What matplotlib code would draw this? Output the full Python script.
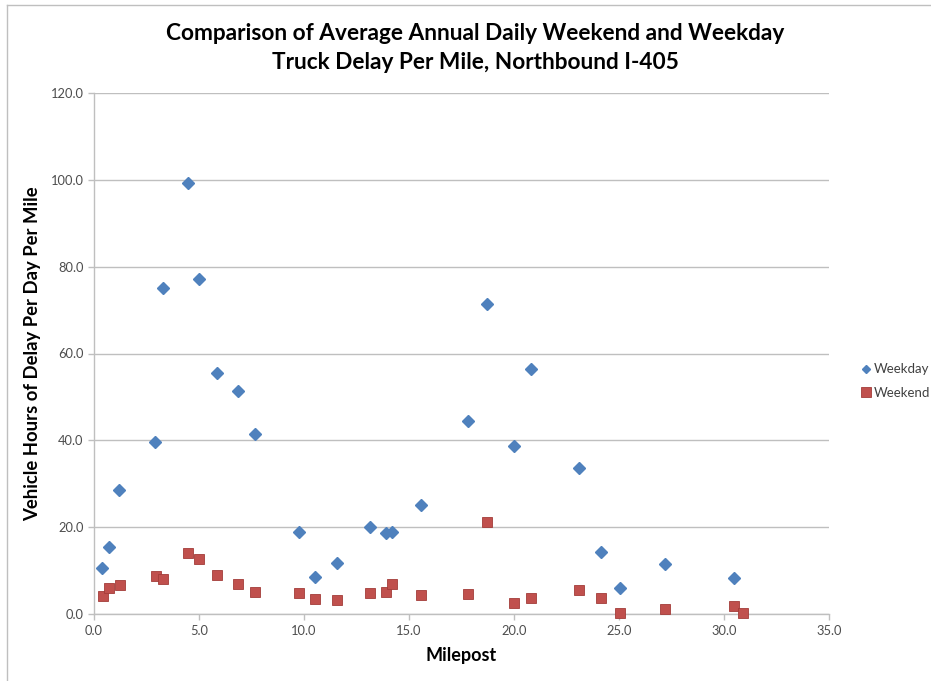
import matplotlib
matplotlib.use("Agg")
import matplotlib.pyplot as plt
from matplotlib.lines import Line2D

plt.rcParams['font.family'] = ['Lato', 'DejaVu Sans']

# weekday series (milepost, hours of delay per day per mile)
weekday_mp = [0.40, 0.71, 1.21, 2.90, 3.30, 4.46, 5.00, 5.84, 6.87, 7.67,
              9.76, 10.52, 11.56, 13.14, 13.90, 14.19, 15.56, 17.79, 18.70,
              20.01, 20.79, 23.11, 24.16, 25.03, 27.19, 30.48]
weekday_delay = [10.6, 15.4, 28.5, 39.7, 75.0, 99.2, 77.2, 55.5, 51.3, 41.4,
                 19.0, 8.5, 11.8, 20.1, 18.7, 18.8, 25.1, 44.5, 71.5,
                 38.8, 56.4, 33.7, 14.3, 5.9, 11.5, 8.4]

# weekend series
weekend_mp = [0.41, 0.73, 1.24, 2.94, 3.30, 4.49, 5.00, 5.84, 6.87, 7.67,
              9.76, 10.52, 11.56, 13.14, 13.90, 14.19, 15.56, 17.79, 18.70,
              20.01, 20.79, 23.11, 24.16, 25.03, 27.19, 30.48, 30.89]
weekend_delay = [4.2, 5.9, 6.7, 8.8, 8.1, 14.1, 12.6, 9.0, 6.9, 5.1,
                 4.8, 3.4, 3.2, 4.8, 5.1, 6.9, 4.4, 4.5, 21.3,
                 2.5, 3.6, 5.5, 3.8, 0.3, 1.1, 1.8, 0.2]

xticks = [0, 5, 10, 15, 20, 25, 30, 35]
yticks = [0, 20, 40, 60, 80, 100, 120]

blue = '#4F81BD'
red = '#C0504D'
grid_c = '#BFBFBF'
tick_c = '#4D4D4D'

fig = plt.figure(figsize=(9.31, 6.81), dpi=100)
ax = fig.add_axes([94/931, 1-614/681, (829-94)/931, (614-93)/681])

ax.plot(weekday_mp, weekday_delay, linestyle='none', marker='D', markersize=6.2,
        color=blue, markeredgecolor=blue, label='Weekday', zorder=3, clip_on=False)
ax.plot(weekend_mp, weekend_delay, linestyle='none', marker='s', markersize=7.5,
        color=red, markeredgecolor='#A33C39', markeredgewidth=0.6, label='Weekend',
        zorder=3, clip_on=False)

ax.set_xlim(0, 35)
ax.set_ylim(0, 120)
ax.set_xticks(xticks)
ax.set_yticks(yticks)
ax.set_xticklabels(['%.1f' % v for v in xticks])
ax.set_yticklabels(['%.1f' % v for v in yticks])
ax.tick_params(axis='both', colors=grid_c, labelcolor=tick_c, labelsize=9.3,
               length=4, width=1, direction='out')
ax.tick_params(axis='x', pad=4)

ax.yaxis.grid(True, color=grid_c, linewidth=1)
ax.set_axisbelow(True)
for s in ['top', 'right']:
    ax.spines[s].set_visible(False)
for s in ['left', 'bottom']:
    ax.spines[s].set_color(grid_c)
    ax.spines[s].set_linewidth(1)

ax.set_xlabel('Milepost', fontsize=13, fontweight='bold', labelpad=7)
ax.set_ylabel('Vehicle Hours of Delay Per Day Per Mile', fontsize=13.3,
              fontweight='bold', labelpad=7)

fig.text(475/931, 1-48/681, 'Comparison of Average Annual Daily Weekend and Weekday\nTruck Delay Per Mile, Northbound I-405',
         ha='center', va='center', fontsize=16.3, fontweight='bold', linespacing=1.42)

handles = [Line2D([], [], linestyle='none', marker='D', markersize=4.5, color=blue),
           Line2D([], [], linestyle='none', marker='s', markersize=6.5, color=red,
                  markeredgecolor='#A33C39', markeredgewidth=0.6)]
fig.legend(handles, ['Weekday', 'Weekend'], loc='center left',
           bbox_to_anchor=(862/931, 1-381/681), frameon=False, fontsize=9.5,
           handlelength=0.6, handletextpad=0.3, labelspacing=0.85, borderpad=0,
           borderaxespad=0, labelcolor='#404040')

# outer chart frame (left and top edges visible in the source)
fig.add_artist(Line2D([7/931, 7/931], [0, 1-5/681], color='#BFBFBF', linewidth=1,
                      transform=fig.transFigure))
fig.add_artist(Line2D([7/931, 1], [1-5/681, 1-5/681], color='#BFBFBF', linewidth=1,
                      transform=fig.transFigure))

fig.savefig('out.png', dpi=100)
